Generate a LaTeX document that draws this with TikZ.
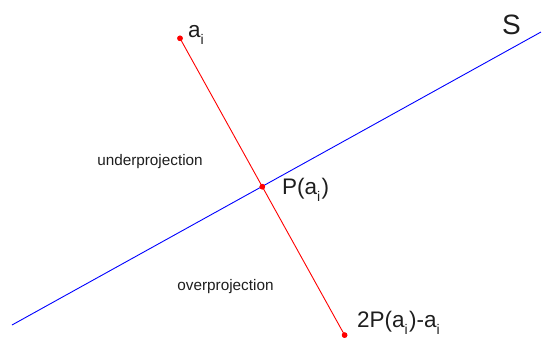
\documentclass[tikz,border=0pt]{standalone}
\usepackage{fontspec}
\setmainfont{Liberation Sans}
\newcommand\subidx{\raisebox{-0.32em}{\scalebox{0.62}{i}}\hspace{0.06em}}
\begin{document}
\begin{tikzpicture}[x=1pt,y=-1pt,
  blueline/.style={draw={rgb,255:red,0;green,0;blue,255},line width=0.9pt},
  redline/.style={draw={rgb,255:red,255;green,0;blue,0},line width=0.9pt},
  dot/.style={circle,fill={rgb,255:red,255;green,0;blue,0},inner sep=0pt,minimum size=5.5pt},
  biglabel/.style={inner sep=0pt,anchor=base west,font=\fontsize{22.5}{26}\selectfont,text={rgb,255:red,30;green,30;blue,30}},
  smalllabel/.style={inner sep=0pt,font=\fontsize{15.3}{18}\selectfont,text={rgb,255:red,30;green,30;blue,30}}]
\useasboundingbox (0,0) rectangle (542,341);
\coordinate (s1) at (12,325);
\coordinate (s2) at (541,32);
\draw[blueline] (s1) -- (s2);
\node[dot] (a) at (180,38.3) {};
\node[dot] (p) at (262.3,186.7) {};
\node[dot] (q) at (344.6,335.1) {};
\draw[redline] (a.center) -- (p.center) -- (q.center);
\node[dot] at (a) {};
\node[dot] at (p) {};
\node[dot] at (q) {};
\node[biglabel] (la) at (188,37) {a\subidx};
\node[biglabel] (lp) at (282,194) {P(a\subidx)};
\node[biglabel] (lq) at (357,327) {2P(a\subidx)-a\subidx};
\node[biglabel,font=\fontsize{28}{31}\selectfont] (ls) at (502,34) {S};
\node[smalllabel] (lu) at (150,162) {underprojection};
\node[smalllabel] (lo) at (225.5,287) {overprojection};
\end{tikzpicture}
\end{document}
